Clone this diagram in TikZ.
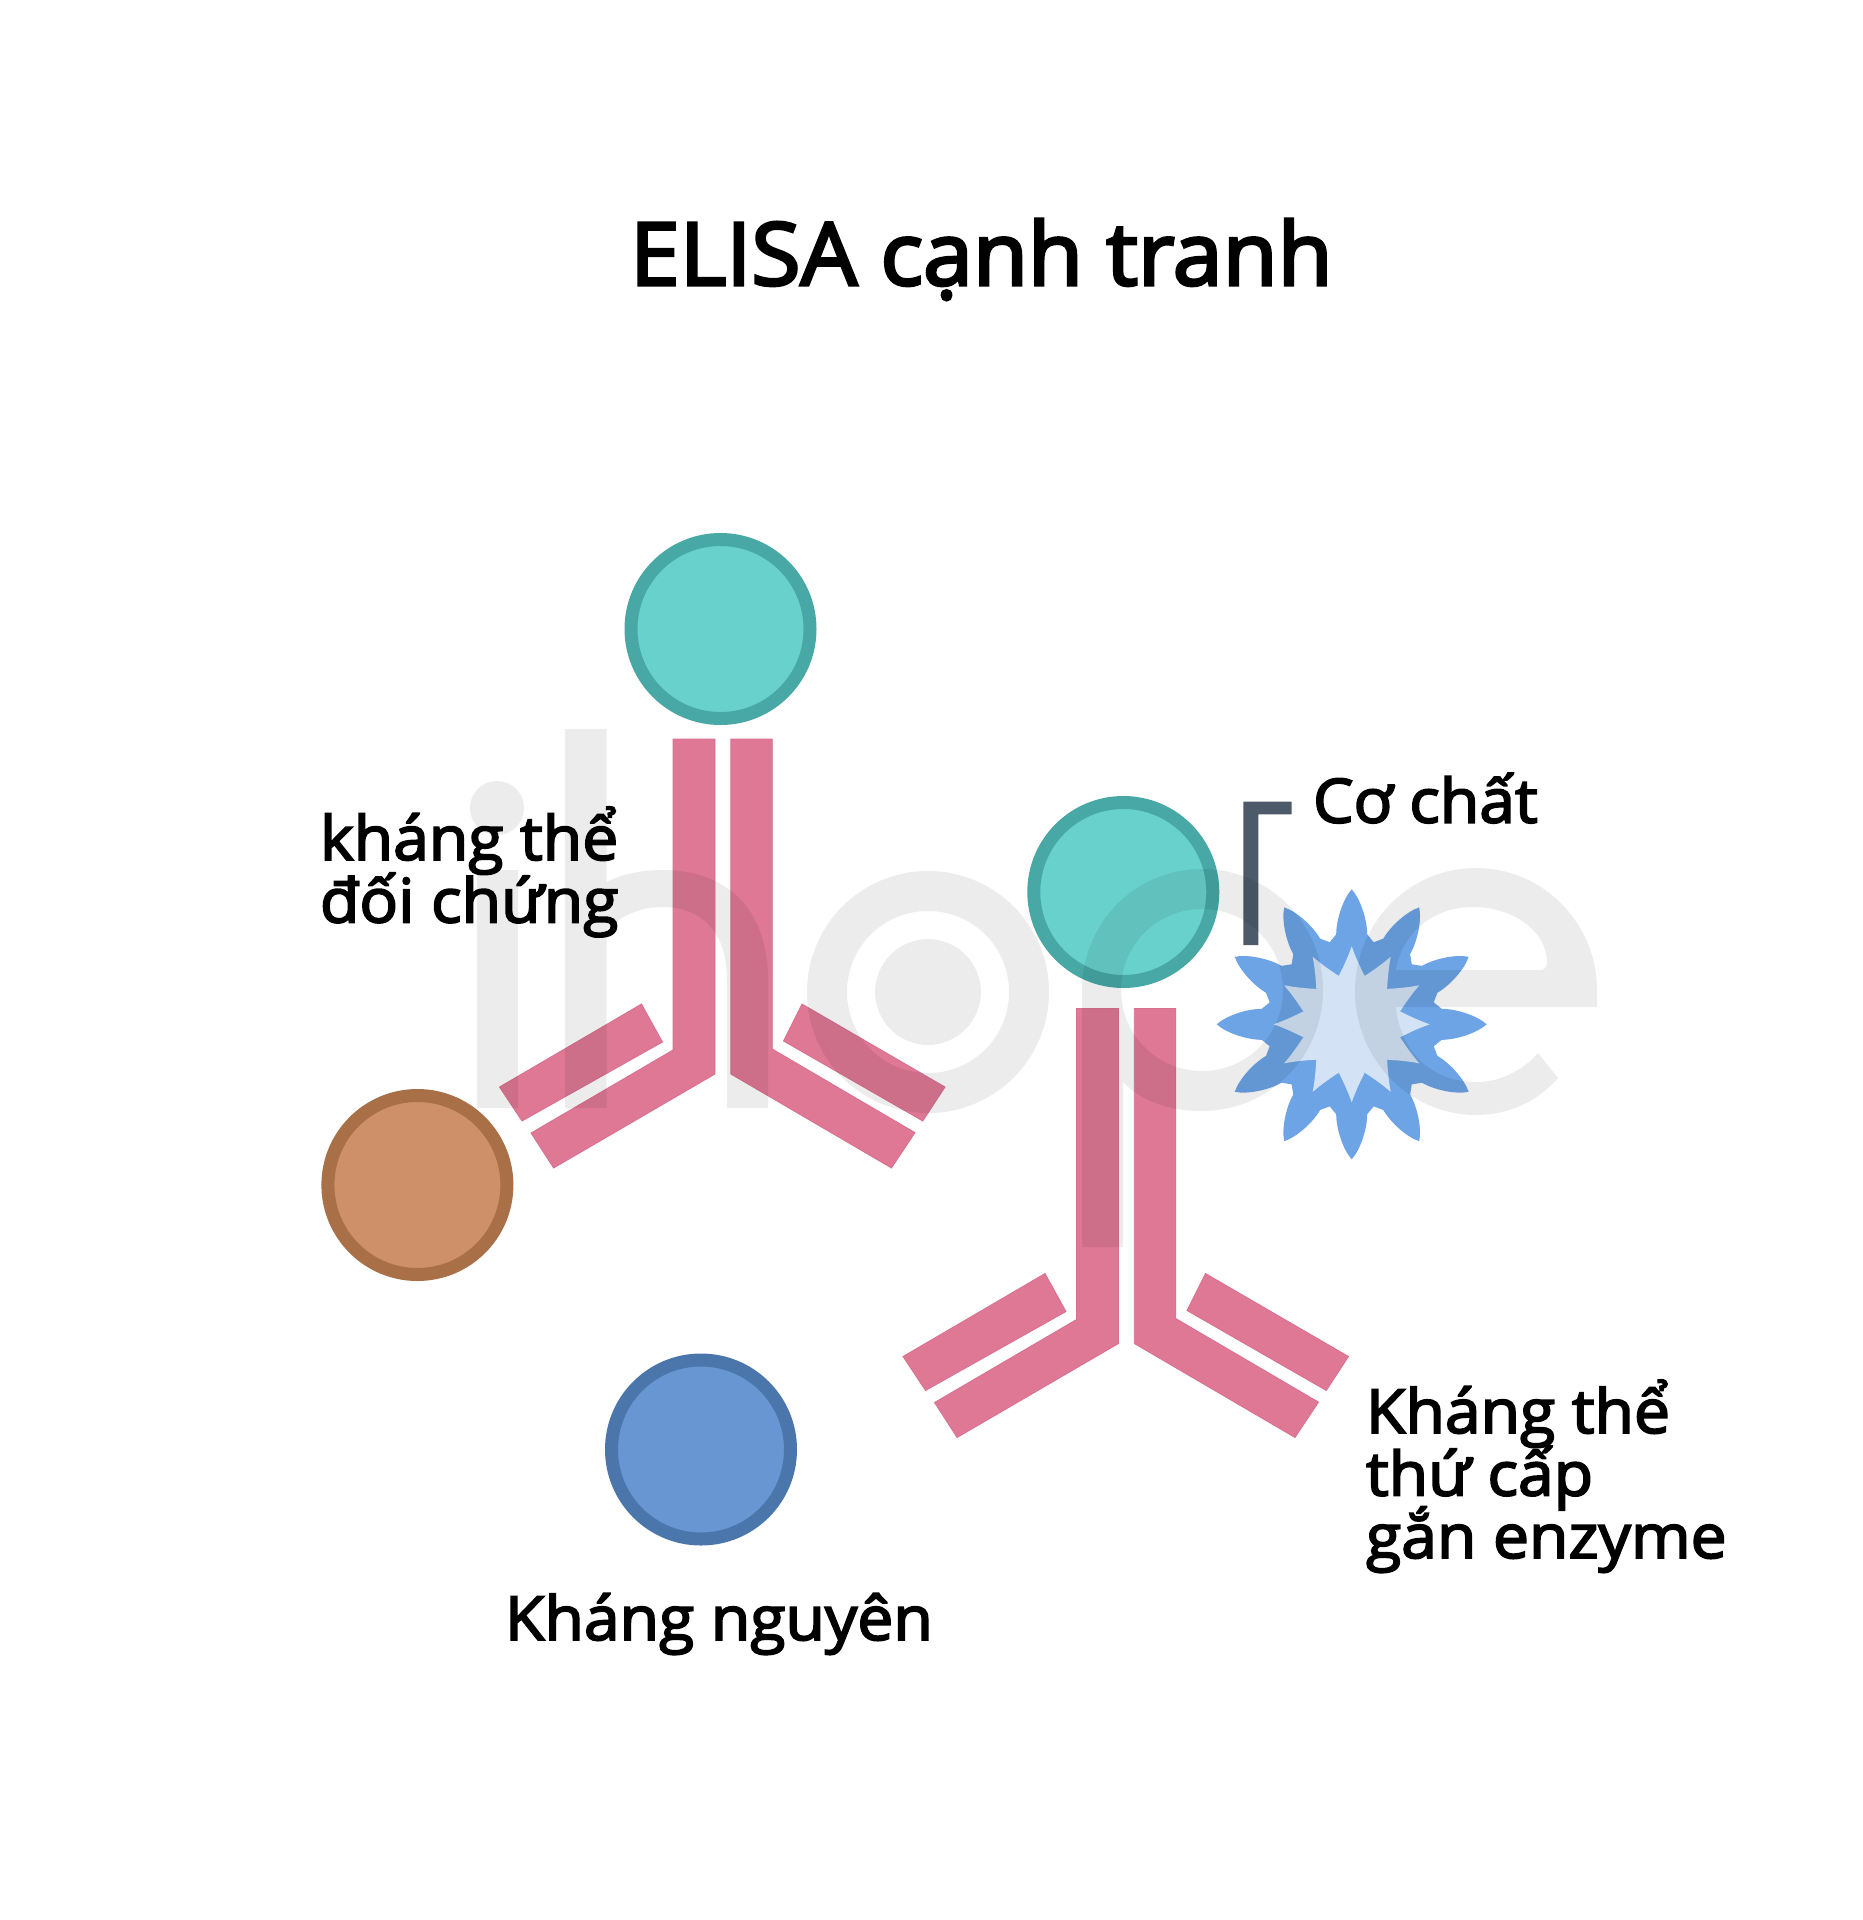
\documentclass[tikz,border=0pt]{standalone}
\usepackage{fontspec}
\setmainfont{Open Sans}
\newfontfamily\labelface{Open Sans}[FakeBold=3,FakeStretch=1.053]
\newfontfamily\titleface{Open Sans}[FakeBold=3.5,FakeStretch=1.03]
\newcommand{\tightlines}{\lineskiplimit=-100pt\relax}
\definecolor{tealfill}{HTML}{69D1CC}
\definecolor{tealring}{HTML}{47A8A5}
\definecolor{brownfill}{HTML}{CE9068}
\definecolor{brownring}{HTML}{A96F47}
\definecolor{bluefill}{HTML}{6796D2}
\definecolor{bluering}{HTML}{4A76AB}
\definecolor{chainpink}{HTML}{DE7895}
\definecolor{chainedge}{HTML}{DA7090}
\definecolor{starblue}{HTML}{6CA4E6}
\definecolor{starpale}{HTML}{D3E3F5}
\definecolor{slate}{HTML}{4C5A69}
\tikzset{
  ball/.style={circle,inner sep=0pt,outer sep=0pt,minimum size=179pt,line width=13pt},
  tealball/.style={ball,draw=tealring,fill=tealfill},
  brownball/.style={ball,draw=brownring,fill=brownfill},
  blueball/.style={ball,draw=bluering,fill=bluefill},
  chain/.style={fill=chainpink,draw=chainedge,line width=0.8pt,line join=miter},
  mark ink/.style={fill=black,fill opacity=0.075,even odd rule},
  caption/.style={inner sep=0pt,outer sep=0pt,anchor=base west,align=left,
    font=\labelface\fontsize{61}{62.5}\selectfont\tightlines},
  headline/.style={inner sep=0pt,outer sep=0pt,anchor=base west,
    font=\titleface\fontsize{87}{87}\selectfont},
}
% One Y-shaped antibody: two heavy chains and two light chains
\newcommand{\antibody}[2]{%
  \begin{scope}[shift={(#1,#2)}]
    \path[chain] (673,739) -- (715,739) -- (715,1074) -- (553.6,1168) -- (531,1133) -- (673,1050) -- cycle;
    \path[chain] (641.5,1004) -- (662.5,1042) -- (522,1121) -- (499.5,1087) -- cycle;
    \path[chain] (730.8,739) -- (772.3,739) -- (772.3,1049) -- (915,1132.6) -- (891.5,1168) -- (730.8,1074) -- cycle;
    \path[chain] (802,1004) -- (783.5,1041) -- (922.8,1121) -- (945,1087) -- cycle;
  \end{scope}}
\begin{document}
\begin{tikzpicture}[x=1pt,y=-1pt]
  \useasboundingbox (0,0) rectangle (1863,1920);
  \fill[white] (0,0) rectangle (1863,1920);

  % Antibodies
  \antibody{0}{0}
  \antibody{403.5}{269.5}

  % Round antigens and labelled conjugates
  \node[tealball] (conjugateA) at (720.5,629) {};
  \node[tealball] (conjugateB) at (1123.3,892) {};
  \node[brownball] (controlAg) at (417.4,1185) {};
  \node[blueball] (antigen) at (701,1449.5) {};

  % Substrate bracket
  \fill[slate] (1243.3,801.7) -- (1291.7,801.7) -- (1291.7,814.3) -- (1258.3,814.3)
    -- (1258.3,945) -- (1243.3,945) -- cycle;

  % Twelve-pointed enzyme burst: broad lens-shaped spikes around a round body
  \begin{scope}[shift={(1351.7,1024.3)}]
    \fill[starblue] (0,0) circle[radius=85pt];
    \foreach \a in {0,30,...,330} {
      \fill[starblue,rotate=\a] (82,-22) -- (90,-15.5)
        .. controls (104,-15.5) and (125,-9) .. (135,0)
        .. controls (125,9) and (104,15.5) .. (90,15.5) -- (82,22) -- cycle;
    }
    \fill[starpale] (0,0) circle[radius=50pt];
    \foreach \a in {0,30,...,330} {
      \fill[starpale,rotate=\a] (48.3,-13)
        .. controls (58,-8) and (68,-3.5) .. (78,0)
        .. controls (68,3.5) and (58,8) .. (48.3,13) -- cycle;
    }
  \end{scope}

  % Pale lettering laid across the artwork
  % letter i
  \path[mark ink] (476.7,870) rectangle (518.3,1108);
  \path[mark ink] (524,808) .. controls (524,823) and (512,835) .. (497,835)
    .. controls (482,835) and (470,823) .. (470,808)
    .. controls (470,793) and (482,781) .. (497,781)
    .. controls (512,781) and (524,793) .. (524,808) -- cycle;
  % letter h
  \path[mark ink] (565,729) -- (606.7,729) -- (606.7,882)
    .. controls (622,874) and (642,870) .. (662,870)
    .. controls (730,870) and (768,912) .. (768,980)
    -- (768,1108) -- (727,1108) -- (727,980)
    .. controls (727,932) and (702,907) .. (662,907)
    .. controls (640,907) and (620,916) .. (606.7,930)
    -- (606.7,1108) -- (565,1108) -- cycle;
  % letter o with its target centre
  \path[mark ink] (1049,992) .. controls (1049,1059) and (995,1113) .. (928,1113)
    .. controls (861,1113) and (807,1059) .. (807,992)
    .. controls (807,925) and (861,871) .. (928,871)
    .. controls (995,871) and (1049,925) .. (1049,992) -- cycle
    (1009,992) .. controls (1009,1037) and (973,1073) .. (928,1073)
    .. controls (883,1073) and (847,1037) .. (847,992)
    .. controls (847,947) and (883,911) .. (928,911)
    .. controls (973,911) and (1009,947) .. (1009,992) -- cycle
    (981,992) .. controls (981,1021) and (957,1045) .. (928,1045)
    .. controls (899,1045) and (875,1021) .. (875,992)
    .. controls (875,963) and (899,939) .. (928,939)
    .. controls (957,939) and (981,963) .. (981,992) -- cycle;
  % letter p
  \path[mark ink] (1082,1247) -- (1082,990)
    .. controls (1082,923) and (1135,869) .. (1202,869)
    .. controls (1269,869) and (1323,923) .. (1323,990)
    .. controls (1323,1057) and (1269,1111) .. (1202,1111)
    .. controls (1168,1111) and (1140,1100) .. (1123,1082)
    -- (1123,1247) -- cycle
    (1283,990) .. controls (1283,1035) and (1247,1071) .. (1202,1071)
    .. controls (1157,1071) and (1121,1035) .. (1121,990)
    .. controls (1121,945) and (1157,909) .. (1202,909)
    .. controls (1247,909) and (1283,945) .. (1283,990) -- cycle;
  % letter e
  \path[mark ink] (1597,1007) -- (1597,990)
    .. controls (1597,923) and (1543,868) .. (1476,868)
    .. controls (1409,868) and (1355,923) .. (1355,991)
    .. controls (1355,1059) and (1409,1115) .. (1476,1115)
    .. controls (1508,1115) and (1537,1102) .. (1558,1078)
    -- (1538,1053)
    .. controls (1522,1071) and (1500,1082) .. (1476,1082)
    .. controls (1430,1082) and (1400,1050) .. (1396,1007) -- cycle
    (1396,970) .. controls (1402,932) and (1434,907) .. (1473,907)
    .. controls (1514,907) and (1547,932) .. (1547,962)
    .. controls (1547,967) and (1545,970) .. (1540,970) -- cycle;

  % Labels (a multi-line node is placed by its last baseline)
  \node[headline] (title) at (630,285) {ELISA cạnh tranh};
  \node[caption] (controlAb) at (320,922.4) {kháng thể\\đối chứng};
  \node[caption] (substrate) at (1313,822.6) {Cơ chất};
  \node[caption] (secondaryAb) at (1366,1558) {Kháng thể\\thứ cấp\\gắn enzyme};
  \node[caption] (antigenLabel) at (505,1640) {Kháng nguyên};
\end{tikzpicture}
\end{document}
